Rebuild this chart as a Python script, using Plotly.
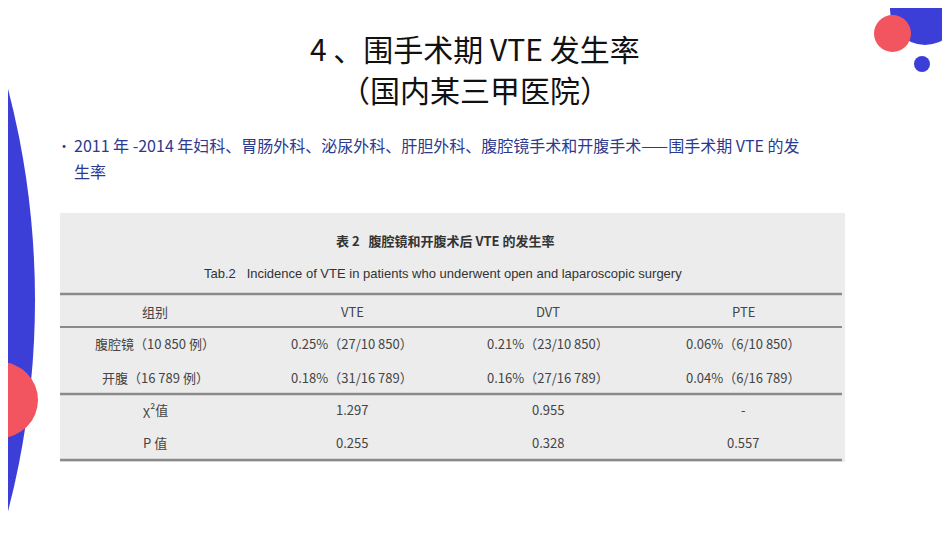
import plotly.graph_objects as go

columns = ["组别", "VTE", "DVT", "PTE"]
row_labels = ["腹腔镜（10 850 例）", "开腹（16 789 例）", "χ²值", "P 值"]
vte = ["0.25%（27/10 850）", "0.18%（31/16 789）", "1.297", "0.255"]
dvt = ["0.21%（23/10 850）", "0.16%（27/16 789）", "0.955", "0.328"]
pte = ["0.06%（6/10 850）", "0.04%（6/16 789）", "-", "0.557"]

FONT = "Noto Sans CJK SC"
fig = go.Figure()

shapes = []
# decorative circles
shapes.append(dict(type="circle", x0=-805-840, x1=-805+840, y0=300-840, y1=300+840,
                   fillcolor="#3b3fd8", line_width=0, layer="below"))
shapes.append(dict(type="circle", x0=-38, x1=38, y0=362, y1=438, fillcolor="#f2555f", line_width=0))
shapes.append(dict(type="circle", x0=890, x1=960, y0=-25, y1=45, fillcolor="#3b3fd8", line_width=0))
shapes.append(dict(type="circle", x0=874, x1=911, y0=15, y1=52, fillcolor="#f2555f", line_width=0))
shapes.append(dict(type="circle", x0=914, x1=930, y0=56, y1=72, fillcolor="#3b3fd8", line_width=0))
# table background and rules
shapes.append(dict(type="rect", x0=60, x1=845, y0=213, y1=462, fillcolor="#ececec", line_width=0))
for y, w in [(294, 2.5), (327, 2), (394, 2.5), (460, 2.5)]:
    shapes.append(dict(type="line", x0=60, x1=842, y0=y, y1=y, line=dict(color="#8a8a8a", width=w)))

ann = []
ann.append(dict(x=475, y=48, text="4 、围手术期 VTE 发生率", font=dict(size=30, color="#111")))
ann.append(dict(x=475, y=89, text="（国内某三甲医院）", font=dict(size=30, color="#111")))
ann.append(dict(x=55, y=145, xanchor="left", text="•", font=dict(size=14, color="#2b3a8f")))
ann.append(dict(x=72, y=145, xanchor="left",
                text="2011 年 -2014 年妇科、胃肠外科、泌尿外科、肝胆外科、腹腔镜手术和开腹手术——围手术期 VTE 的发",
                font=dict(size=16, color="#2b3a8f")))
ann.append(dict(x=72, y=171, xanchor="left", text="生率", font=dict(size=16, color="#2b3a8f")))
ann.append(dict(x=445, y=240, text="<b>表 2   腹腔镜和开腹术后 VTE 的发生率</b>", font=dict(size=13, color="#333")))
ann.append(dict(x=443, y=273, text="Tab.2   Incidence of VTE in patients who underwent open and laparoscopic surgery",
                font=dict(size=13, color="#333", family="Liberation Sans Narrow, Liberation Sans")))

col_x = [155, 352, 548, 743]
row_y = [343, 377, 409, 442]
for cx, c in zip(col_x, columns):
    ann.append(dict(x=cx, y=311, text=c, font=dict(size=13, color="#444")))
for i, ry in enumerate(row_y):
    for cx, val in zip(col_x, [row_labels[i], vte[i], dvt[i], pte[i]]):
        ann.append(dict(x=cx, y=ry, text=val, font=dict(size=13, color="#444")))

for a in ann:
    a.update(xref="x", yref="y", showarrow=False)
    a["font"].setdefault("family", FONT)

fig.update_layout(
    width=950, height=535, margin=dict(l=0, r=0, t=0, b=0),
    paper_bgcolor="white", plot_bgcolor="white",
    xaxis=dict(range=[8, 958], visible=False, fixedrange=True),
    yaxis=dict(range=[543, 8], visible=False, fixedrange=True),
    shapes=shapes, annotations=ann, showlegend=False,
)
fig.write_html("out.html")
